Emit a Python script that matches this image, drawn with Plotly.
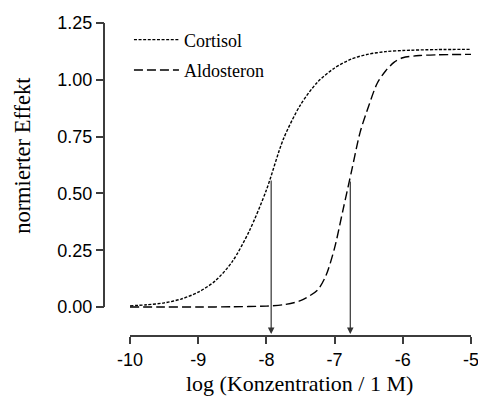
import plotly.graph_objects as go

# ---- data ----
cort_x = [-10.0, -9.75, -9.5, -9.25, -9.0, -8.75, -8.5, -8.25, -8.0, -7.75,
          -7.5, -7.25, -7.0, -6.75, -6.5, -6.25, -6.0, -5.5, -5.0]
cort_y = [0.005, 0.010, 0.018, 0.035, 0.065, 0.115, 0.200, 0.335, 0.515, 0.740,
          0.890, 0.990, 1.052, 1.092, 1.113, 1.124, 1.129, 1.133, 1.134]

aldo_x = [-10.0, -9.5, -9.0, -8.5, -8.0, -7.75, -7.5, -7.25, -7.125, -7.0,
          -6.875, -6.75, -6.625, -6.5, -6.375, -6.25, -6.125, -6.0, -5.75, -5.5, -5.0]
aldo_y = [0.0, 0.0, 0.0, 0.001, 0.004, 0.010, 0.028, 0.075, 0.140, 0.260,
          0.430, 0.600, 0.770, 0.885, 0.985, 1.040, 1.078, 1.097, 1.107, 1.110, 1.112]

ec50_x = [-7.93, -6.77]
ec50_y = [0.563, 0.559]

x_ticks = [-10, -9, -8, -7, -6, -5]
y_ticks = [0.0, 0.25, 0.5, 0.75, 1.0, 1.25]
y_tick_labels = ["0.00", "0.25", "0.50", "0.75", "1.00", "1.25"]

X_RANGE = [-10, -5]
Y_RANGE = [-0.1232, 1.25]

AX = "#3c3c3c"
SERIF = "Liberation Serif, Times New Roman, serif"
SANS = "Liberation Sans, Arial, sans-serif"

fig = go.Figure()
fig.add_trace(go.Scatter(x=cort_x, y=cort_y, mode="lines", name="Cortisol",
                         legendgroup="c", line=dict(color="black", width=1.4, dash="3px,1.6px",
                                                    shape="spline", smoothing=0.8)))
fig.add_trace(go.Scatter(x=aldo_x, y=aldo_y, mode="lines", name="Aldosteron",
                         legendgroup="a", line=dict(color="black", width=1.4, dash="9px,4px",
                                                    shape="spline", smoothing=0.8)))

# EC50 arrows
for ex, ey in zip(ec50_x, ec50_y):
    fig.add_annotation(x=ex, y=Y_RANGE[0], ax=ex, ay=ey, xref="x", yref="y",
                       axref="x", ayref="y", text="", showarrow=True,
                       arrowhead=2, arrowsize=1.1, arrowwidth=1.2, arrowcolor="#333333",
                       standoff=1)

# y axis line (from 0 to 1.25 only)
fig.add_shape(type="line", xref="paper", yref="y", x0=0, x1=0, y0=0, y1=1.25,
              line=dict(color=AX, width=2))

# axis titles
fig.add_annotation(text="log (Konzentration / 1 M)", xref="paper", yref="paper",
                   x=0.534, y=-0.154, showarrow=False, xanchor="center", yanchor="middle",
                   font=dict(family=SERIF, size=22, color="black"))
fig.add_annotation(text="normierter Effekt", xref="paper", yref="paper",
                   x=-0.221, y=0.577, showarrow=False, textangle=-90,
                   xanchor="center", yanchor="middle",
                   font=dict(family=SERIF, size=22.5, color="black"))

fig.update_layout(
    width=478, height=400,
    margin=dict(l=104, r=7, t=23, b=65, autoexpand=False),
    paper_bgcolor="white", plot_bgcolor="white",
    showlegend=True,
    legend=dict(x=0.068, y=1.005, xanchor="left", yanchor="top",
                font=dict(family=SERIF, size=18, color="black"),
                bgcolor="rgba(0,0,0,0)", tracegroupgap=4, itemwidth=45),
    xaxis=dict(domain=[26 / 367, 1], range=X_RANGE, tickvals=x_ticks,
               ticktext=[str(v) for v in x_ticks], showgrid=False, zeroline=False,
               showline=True, linecolor=AX, linewidth=1.8, ticks="outside", ticklen=7,
               tickwidth=1.8, tickcolor=AX, anchor="y", ticklabeloverflow="allow",
               automargin=False,
               tickfont=dict(family=SANS, size=18, color="black")),
    yaxis=dict(domain=[0, 1], range=Y_RANGE, tickvals=y_ticks, ticktext=y_tick_labels,
               showgrid=False, zeroline=False, showline=False, ticks="outside",
               ticklen=8, tickwidth=1.8, tickcolor=AX, anchor="free", position=0,
               automargin=False,
               tickfont=dict(family=SANS, size=18, color="black")),
)

fig.write_html("out.html")
